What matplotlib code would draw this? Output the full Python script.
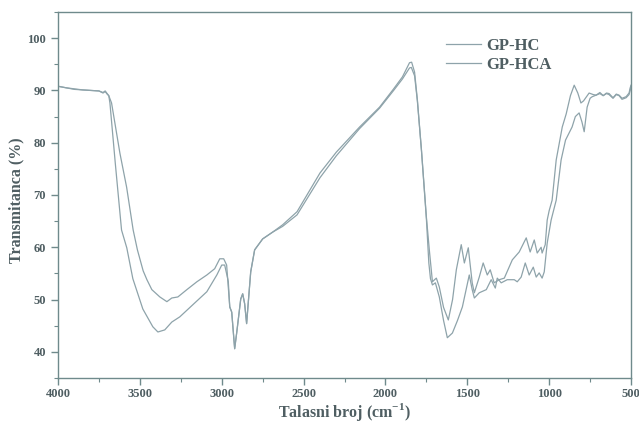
import numpy as np
import matplotlib
matplotlib.use("Agg")
import matplotlib.pyplot as plt
from matplotlib.ticker import MultipleLocator

# ── Podaci (procijenjeno sa slike) ───────────────────────────────────────────
hc_wn = [4000, 3950, 3900, 3850, 3800, 3750, 3725, 3712, 3700, 3690,
         3673, 3622, 3581, 3541, 3515, 3480, 3457, 3427, 3378, 3335,
         3305, 3268, 3213, 3152, 3091, 3043, 3012, 2988, 2970, 2951,
         2939, 2921, 2908, 2884, 2872, 2860, 2848, 2841, 2823, 2799,
         2750, 2689, 2628, 2540, 2400, 2300, 2158, 2036, 1950, 1896,
         1853, 1840, 1822, 1805, 1780, 1750, 1732, 1713, 1700, 1689,
         1671, 1645, 1616, 1590, 1567, 1537, 1518, 1494, 1470, 1457,
         1427, 1403, 1378, 1360, 1336, 1305, 1274, 1225, 1183, 1140,
         1116, 1091, 1073, 1049, 1043, 1024, 1012, 1000, 982, 957,
         920, 896, 870, 847, 825, 806, 790, 756, 730, 713,
         690, 670, 650, 634, 610, 590, 573, 555, 530, 512,
         505, 500]
hc_t = [90.8, 90.5, 90.2, 90.1, 90.0, 89.9, 89.6, 89.9, 89.4, 89.0,
        87.6, 78.0, 71.5, 63.3, 59.5, 55.5, 53.8, 51.9, 50.5, 49.6,
        50.3, 50.5, 51.9, 53.4, 54.7, 55.9, 57.8, 57.8, 56.6, 48.6,
        47.6, 40.6, 43.8, 50.1, 51.1, 49.2, 45.4, 48.2, 55.3, 59.5,
        61.6, 62.9, 64.3, 66.8, 74.2, 78.2, 83.0, 86.8, 90.3, 92.6,
        95.3, 95.4, 93.5, 88.2, 78.6, 65.8, 59.5, 53.4, 53.8, 54.1,
        52.4, 48.5, 46.1, 50.0, 55.7, 60.5, 57.0, 59.9, 53.2, 51.3,
        54.3, 57.0, 54.7, 55.7, 53.2, 53.8, 54.1, 57.6, 59.1, 61.8,
        59.1, 61.4, 58.9, 60.0, 58.9, 60.5, 65.2, 67.0, 69.0, 76.7,
        83.0, 85.5, 89.0, 91.0, 89.5, 87.6, 88.0, 89.5, 89.2, 89.1,
        89.6, 89.0, 89.5, 89.4, 88.6, 89.3, 89.1, 88.5, 88.8, 89.5,
        90.5, 91.0]

hca_wn = [4000, 3950, 3900, 3850, 3800, 3750, 3725, 3712, 3700, 3690,
          3683, 3650, 3612, 3580, 3543, 3482, 3421, 3390, 3348, 3305,
          3256, 3177, 3091, 3030, 3000, 2982, 2960, 2951, 2939, 2921,
          2908, 2884, 2872, 2860, 2848, 2841, 2823, 2799, 2750, 2689,
          2628, 2540, 2400, 2300, 2158, 2036, 1950, 1896, 1853, 1842,
          1822, 1805, 1780, 1750, 1735, 1725, 1713, 1695, 1671, 1645,
          1622, 1591, 1560, 1530, 1488, 1470, 1457, 1427, 1384, 1354,
          1329, 1317, 1293, 1256, 1213, 1195, 1171, 1146, 1122, 1097,
          1079, 1061, 1043, 1030, 1012, 988, 957, 927, 900, 860,
          840, 817, 800, 786, 768, 750, 737, 713, 690, 670,
          650, 634, 610, 590, 573, 555, 530, 512, 505, 500]
hca_t = [90.8, 90.5, 90.3, 90.1, 90.0, 89.9, 89.5, 89.8, 89.3, 89.0,
         87.6, 76.0, 63.3, 59.9, 54.0, 48.2, 44.8, 43.8, 44.2, 45.7,
         46.7, 49.0, 51.5, 54.7, 56.6, 56.6, 53.5, 48.6, 47.6, 40.6,
         43.8, 50.1, 51.1, 49.2, 45.4, 48.2, 55.3, 59.5, 61.6, 62.9,
         64.0, 66.2, 73.3, 77.5, 82.7, 86.6, 90.0, 92.2, 94.3, 94.4,
         92.8, 88.0, 78.5, 65.5, 57.0, 54.0, 52.8, 53.2, 50.5, 46.0,
         42.7, 43.6, 46.0, 48.6, 54.7, 51.9, 50.3, 51.3, 51.9, 53.8,
         52.2, 54.1, 53.2, 53.8, 53.8, 53.4, 54.3, 57.0, 54.7, 56.2,
         54.3, 55.1, 54.1, 55.3, 60.8, 65.2, 69.0, 76.7, 80.5, 83.0,
         85.0, 85.7, 84.0, 82.1, 86.8, 88.5, 88.8, 89.1, 89.4, 89.0,
         89.4, 89.2, 88.5, 89.2, 89.0, 88.3, 88.6, 89.2, 90.0, 90.8]

labels = ["GP-HC", "GP-HCA"]

# ── Stil ─────────────────────────────────────────────────────────────────────
line_c = '#8ea3aa'
txt_c = '#4f5e62'
spine_c = '#6f8a8c'
plt.rcParams['font.family'] = ['Liberation Serif', 'DejaVu Serif']
plt.rcParams['font.weight'] = 'bold'
plt.rcParams['mathtext.fontset'] = 'custom'
plt.rcParams['mathtext.bf'] = 'Liberation Serif:bold'
plt.rcParams['mathtext.rm'] = 'Liberation Serif:bold'

fig = plt.figure(figsize=(6.39, 4.24), dpi=100)
ax = fig.add_axes([0.0908, 0.1085, 0.8967, 0.8632])

ax.plot(hc_wn, hc_t, lw=0.9, color=line_c, label=labels[0])
ax.plot(hca_wn, hca_t, lw=0.9, color=line_c, label=labels[1])

ax.set_xlim(4000, 500)
ax.set_ylim(35, 105)
ax.xaxis.set_major_locator(MultipleLocator(500))
ax.xaxis.set_minor_locator(MultipleLocator(250))
ax.yaxis.set_minor_locator(MultipleLocator(5))
ax.set_yticks([40, 50, 60, 70, 80, 90, 100])

for s in ax.spines.values():
    s.set_color(spine_c)
    s.set_linewidth(1.0)
ax.tick_params(which='major', direction='out', length=5, width=1.0,
               color=spine_c, labelcolor=txt_c, labelsize=9)
ax.tick_params(axis='x', which='major', pad=2)
ax.tick_params(which='minor', direction='out', length=3, width=0.8,
               color=spine_c)
for lab in ax.get_xticklabels() + ax.get_yticklabels():
    lab.set_fontweight('bold')

ax.set_xlabel("Talasni broj (cm$^{-1}$)", fontsize=11.5,
              fontweight='bold', color=txt_c)
ax.xaxis.set_label_coords(0.50, -0.064)
ax.set_ylabel("Transmitanca (%)", fontsize=11.5, fontweight='bold',
              color=txt_c)
ax.yaxis.set_label_coords(-0.058, 0.486)

leg = ax.legend(loc='upper left', bbox_to_anchor=(0.663, 0.952),
                frameon=False, handlelength=2.1, handletextpad=0.3,
                labelspacing=0.2, borderpad=0.0,
                prop={'weight': 'bold', 'size': 12})
for t in leg.get_texts():
    t.set_color(txt_c)

fig.savefig("out.png", dpi=100)
